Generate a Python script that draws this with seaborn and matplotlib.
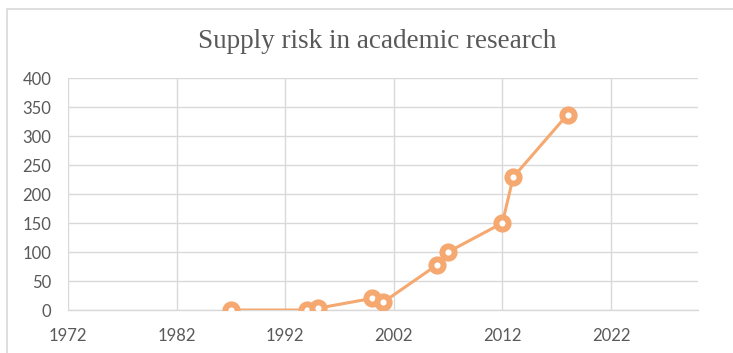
import matplotlib.pyplot as plt
import matplotlib.patches as patches
import seaborn as sns
import pandas as pd

# Values
years = [1987, 1994, 1995, 2000, 2001, 2006, 2007, 2012, 2013, 2018]
counts = [0, 0, 3, 20, 13, 78, 100, 150, 229, 337]
x_ticks = [1972, 1982, 1992, 2002, 2012, 2022]
y_ticks = [0, 50, 100, 150, 200, 250, 300, 350, 400]

df = pd.DataFrame({'Year': years, 'Count': counts})

sns.set_theme(style="white")
plt.rcParams['font.family'] = ['Lato', 'DejaVu Sans']

orange = '#F5A86F'
grid_col = '#D9D9D9'
text_col = '#595959'

fig = plt.figure(figsize=(7.33, 3.53), dpi=100)
ax = fig.add_axes([0.0928, 0.1218, 0.8592, 0.6572])

# Outer chart border
fig.patches.append(patches.Rectangle((7 / 733, -0.01), 1.0, 1 - 9 / 353 + 0.01,
                                     transform=fig.transFigure, fill=False,
                                     edgecolor='#D9D9D9', linewidth=1.2))

sns.lineplot(data=df, x='Year', y='Count', ax=ax, color=orange, linewidth=2.2,
             marker='o', markersize=8.8, markerfacecolor='white',
             markeredgecolor=orange, markeredgewidth=4.3, zorder=3)

ax.set_xlim(1972, 2030)
ax.set_ylim(0, 400)
ax.set_xticks(x_ticks)
ax.set_yticks(y_ticks)
ax.grid(True, color=grid_col, linewidth=1)
ax.set_axisbelow(True)
for s in ['top', 'right', 'left']:
    ax.spines[s].set_visible(False)
ax.spines['bottom'].set_color(grid_col)
ax.spines['bottom'].set_linewidth(1)
ax.tick_params(axis='both', length=0, labelsize=12, colors=text_col)
ax.tick_params(axis='x', pad=13)
ax.tick_params(axis='y', pad=12)
ax.set_xlabel('')
ax.set_ylabel('')

fig.text(0.515, 0.882, 'Supply risk in academic research', ha='center', va='center',
         fontsize=19.5, color=text_col, family=['Liberation Serif', 'DejaVu Serif'])

fig.savefig('out.png', dpi=100)
